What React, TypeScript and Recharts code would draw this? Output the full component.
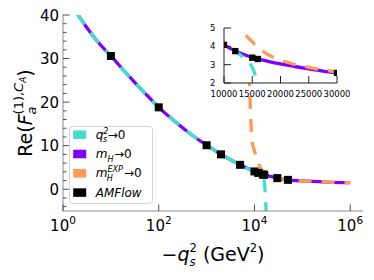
import React from 'react';
import {
  ComposedChart,
  Line,
  Scatter,
  XAxis,
  YAxis,
  ZAxis,
  CartesianGrid,
  Legend
} from 'recharts';

// values (x = -q_s^2 in GeV^2)
const mHx = [2, 3, 5, 10, 20, 50, 100, 200, 500, 1000, 2000, 5000, 10000, 12000, 14000, 16000, 18000, 20000, 22500, 25000, 27500, 30000, 50000, 100000, 300000, 1000000];
const mHy = [40.3, 37.4, 34.2, 30.6, 26.9, 22.2, 18.8, 15.9, 12.4, 10.1, 8.0, 5.6, 4.08, 3.75, 3.5, 3.32, 3.17, 3.04, 2.9, 2.77, 2.65, 2.55, 2.15, 1.9, 1.65, 1.5];

const qsX = [2, 3, 5, 10, 20, 50, 100, 200, 500, 1000, 2000, 5000, 10000, 12000, 13000, 14000, 14500, 15000, 15500, 16000, 16500, 17000, 17500];
const qsY = [40.3, 37.4, 34.2, 30.6, 26.9, 22.2, 18.8, 15.9, 12.4, 10.1, 8.0, 5.6, 4.08, 3.72, 3.5, 3.25, 3.1, 2.85, 2.45, 1.7, 0.3, -2.0, -5.5];

const expX = [7600, 8000, 8300, 8700, 9500, 10000, 11000, 12000, 13250, 15000, 17500, 20000, 25000, 30000, 50000, 100000, 300000, 1000000];
const expY = [32, 22, 17, 12.5, 9.6, 8.8, 7.3, 6.1, 4.95, 4.25, 3.6, 3.25, 2.85, 2.6, 2.15, 1.9, 1.65, 1.5];

const amfX = [10, 100, 1000, 2000, 5000, 10000, 12000, 15000, 16000, 30000, 50000];
const amfY = [30.6, 18.8, 10.1, 8.0, 5.6, 4.08, 3.74, 3.38, 3.31, 2.55, 2.15];

const xTicks = [1, 100, 10000, 1000000];
const yTicks = [-4, -2, 0, 2, 4, 6, 8, 10, 12, 14, 16, 18, 20, 22, 24, 26, 28, 30, 32, 34, 36, 38, 40];
const insetXTicks = [10000, 15000, 20000, 25000, 30000];
const insetYTicks = [2, 3, 4, 5];

const legendItems = [
  { color: '#40e0d0', base: 'q', sub: 's', sup: '2', tail: '→0' },
  { color: '#7f00ff', base: 'm', sub: 'H', sup: '', tail: '→0' },
  { color: '#ff9955', base: 'm', sub: 'H', sup: 'EXP', tail: '→0' },
  { color: '#000000', base: 'AMFlow', sub: '', sup: '', tail: '' }
];

const zip = (xs: number[], ys: number[]) => xs.map((x, i) => ({ x, y: ys[i] }));
const mHData = zip(mHx, mHy);
const qsData = zip(qsX, qsY);
const expData = zip(expX, expY);
const amfData = zip(amfX, amfY);

const FONT = '"DejaVu Sans", sans-serif';
const SPINE = '#8c8c8c';
const TICK = '#4d4d4d';
const TM = 4;

const LeftTick = (p: any) => {
  const v = p.payload.value;
  const major = v % 10 === 0;
  const ax = p.x + TM;
  return (
    <g>
      <line x1={ax} x2={ax + (major ? 6.5 : 3.5)} y1={p.y} y2={p.y} stroke={TICK} />
      {major && (
        <text x={p.x} y={p.y + 5.5} textAnchor="end" fontSize={15} fontFamily={FONT} fill="#000">{v}</text>
      )}
    </g>
  );
};

const RightTick = (p: any) => {
  const major = p.payload.value % 10 === 0;
  const ax = p.x - TM;
  return <line x1={ax} x2={ax - (major ? 6.5 : 3.5)} y1={p.y} y2={p.y} stroke={TICK} />;
};

const BottomTick = (p: any) => {
  const exp = Math.round(Math.log10(p.payload.value));
  const ay = p.y - TM;
  return (
    <g>
      <line x1={p.x} x2={p.x} y1={ay} y2={ay - 6.5} stroke={TICK} />
      <text x={p.x} y={ay + 20} textAnchor="middle" fontSize={15} fontFamily={FONT} fill="#000">
        10<tspan fontSize={10.5} dy={-7}>{exp}</tspan>
      </text>
    </g>
  );
};

const TopTick = (p: any) => {
  const ay = p.y + TM;
  return <line x1={p.x} x2={p.x} y1={ay} y2={ay + 6.5} stroke={TICK} />;
};

const XLabel = (p: any) => {
  const vb = p.viewBox;
  const cx = vb.x + vb.width / 2;
  const by = vb.y + 50;
  return (
    <text x={cx} y={by} textAnchor="middle" fontSize={19} fontFamily={FONT} fill="#000">
      −<tspan fontStyle="italic">q</tspan>
      <tspan fontSize={11.5} dy={-9}>2</tspan>
      <tspan fontStyle="italic" fontSize={11.5} dx={-7.3} dy={14}>s</tspan>
      <tspan dx={1.3} dy={-5}> (GeV</tspan>
      <tspan fontSize={11.5} dy={-9}>2</tspan>
      <tspan dy={9}>)</tspan>
    </text>
  );
};

const YLabel = (p: any) => {
  const vb = p.viewBox;
  const cx = vb.x + 32;
  const cy = vb.y + vb.height / 2;
  return (
    <text x={cx} y={cy} transform={`rotate(-90 ${cx} ${cy})`} textAnchor="middle" fontSize={19} fontFamily={FONT} fill="#000">
      Re(<tspan fontStyle="italic">F</tspan>
      <tspan fontStyle="italic" fontSize={13} dy={4}>a</tspan>
      <tspan fontSize={13} dx={-8} dy={-13}>(1),</tspan>
      <tspan fontStyle="italic" fontSize={13}>C</tspan>
      <tspan fontStyle="italic" fontSize={9} dy={3}>A</tspan>
      <tspan dy={6}>)</tspan>
    </text>
  );
};

const InsetLeftTick = (p: any) => {
  const ax = p.x + TM;
  return (
    <g>
      <line x1={ax} x2={ax + 7} y1={p.y} y2={p.y} stroke="#222" />
      <text x={p.x - 4.5} y={p.y + 3} textAnchor="end" fontSize={8.5} fontFamily={FONT} fill="#000">{p.payload.value}</text>
    </g>
  );
};

const InsetBottomTick = (p: any) => {
  const ay = p.y - TM;
  return (
    <g>
      <line x1={p.x} x2={p.x} y1={ay} y2={ay - 7} stroke="#222" />
      <text x={p.x} y={ay + 13.5} textAnchor="middle" fontSize={8.5} fontFamily={FONT} fill="#000">{p.payload.value}</text>
    </g>
  );
};

// rough advance widths of the small script glyphs (8px italic)
const scriptWidth = (s: string) => s.length * 5.3;

const LegendLabel = ({ it, x, y }: { it: typeof legendItems[number]; x: number; y: number }) => {
  const supW = scriptWidth(it.sup);
  const subW = scriptWidth(it.sub);
  return (
    <text x={x} y={y} fontSize={12} fontFamily={FONT} fill="#000">
      <tspan fontStyle="italic">{it.base}</tspan>
      {it.sup && <tspan fontSize={8} fontStyle="italic" dy={-5}>{it.sup}</tspan>}
      {it.sub && (
        <tspan fontSize={8} fontStyle="italic" dx={it.sup ? -supW : 0} dy={it.sup ? 8.5 : 3.5}>{it.sub}</tspan>
      )}
      {it.tail && (
        <tspan dx={Math.max(supW - subW, 0) + 0.5} dy={it.sub ? -3.5 : 0}>{it.tail}</tspan>
      )}
    </text>
  );
};

const renderLegend = () => (
  <svg width={84} height={78} style={{ display: 'block' }}>
    <rect x={0.5} y={0.5} width={83} height={77} rx={3} fill="#fff" fillOpacity={0.85} stroke="#d6d6d6" />
    {legendItems.map((it, i) => {
      const cy = 8.7 + i * 19.3;
      return (
        <g key={it.base + it.sup}>
          <rect x={4.2} y={cy - 4.25} width={13} height={8.5} fill={it.color} />
          <LegendLabel it={it} x={26.7} y={cy + 4} />
        </g>
      );
    })}
  </svg>
);

const App: React.FC = () => {
  return (
    <div style={{ position: 'absolute', left: 0, top: 0, width: 374, height: 280, background: '#fff', fontFamily: FONT }}>
      <ComposedChart width={374} height={280} margin={{ top: 15, right: 11, bottom: 0, left: 0 }}>
        <XAxis
          xAxisId="b"
          type="number"
          dataKey="x"
          scale="log"
          domain={[1, 1850000]}
          allowDataOverflow
          ticks={xTicks}
          interval={0}
          height={69}
          tickSize={0}
          tickMargin={TM}
          tickLine={false}
          axisLine={{ stroke: SPINE }}
          tick={(p: any) => <BottomTick {...p} />}
          label={(p: any) => <XLabel {...p} />}
        />
        <XAxis
          xAxisId="t"
          orientation="top"
          type="number"
          scale="log"
          domain={[1, 1850000]}
          allowDataOverflow
          ticks={xTicks}
          interval={0}
          height={0}
          tickSize={0}
          tickMargin={TM}
          tickLine={false}
          axisLine={{ stroke: SPINE }}
          tick={(p: any) => <TopTick {...p} />}
        />
        <YAxis
          yAxisId="l"
          type="number"
          dataKey="y"
          domain={[-5, 40]}
          allowDataOverflow
          ticks={yTicks}
          interval={0}
          width={63}
          tickSize={0}
          tickMargin={TM}
          tickLine={false}
          axisLine={{ stroke: SPINE }}
          tick={(p: any) => <LeftTick {...p} />}
          label={(p: any) => <YLabel {...p} />}
        />
        <YAxis
          yAxisId="r"
          orientation="right"
          type="number"
          domain={[-5, 40]}
          allowDataOverflow
          ticks={yTicks}
          interval={0}
          width={0}
          tickSize={0}
          tickMargin={TM}
          tickLine={false}
          axisLine={{ stroke: SPINE }}
          tick={(p: any) => <RightTick {...p} />}
        />
        <Line xAxisId="b" yAxisId="l" data={mHData} dataKey="y" type="monotone" stroke="#7f00ff" strokeWidth={3.3} dot={false} isAnimationActive={false} />
        <Line xAxisId="b" yAxisId="l" data={qsData} dataKey="y" type="monotone" stroke="#40e0d0" strokeWidth={3.3} strokeDasharray="13 10" dot={false} isAnimationActive={false} />
        <Line xAxisId="b" yAxisId="l" data={expData} dataKey="y" type="monotone" stroke="#ff9955" strokeWidth={3.3} strokeDasharray="13 10" dot={false} isAnimationActive={false} />
        <Scatter xAxisId="b" yAxisId="l" data={amfData} dataKey="y" shape="square" fill="#000" isAnimationActive={false} />
        <Legend
          content={renderLegend}
          layout="vertical"
          align="center"
          verticalAlign="middle"
          wrapperStyle={{ left: 69, top: 126, width: 84 }}
        />
      </ComposedChart>

      <div style={{ position: 'absolute', left: 200, top: 20 }}>
        <ComposedChart width={150} height={80} margin={{ top: 8, right: 13, bottom: 0, left: 0 }}>
          <CartesianGrid horizontal={false} vertical={false} fill="#fff" stroke="none" />
          <XAxis
            type="number"
            dataKey="x"
            domain={[10000, 30000]}
            allowDataOverflow
            ticks={insetXTicks}
            interval={0}
            height={17}
            tickSize={0}
            tickMargin={TM}
            tickLine={false}
            axisLine={{ stroke: '#222' }}
            tick={(p: any) => <InsetBottomTick {...p} />}
          />
          <XAxis xAxisId="t" orientation="top" type="number" domain={[10000, 30000]} height={0} tick={false} tickLine={false} axisLine={{ stroke: '#222' }} />
          <YAxis
            type="number"
            dataKey="y"
            domain={[2, 5]}
            allowDataOverflow
            ticks={insetYTicks}
            interval={0}
            width={24}
            tickSize={0}
            tickMargin={TM}
            tickLine={false}
            axisLine={{ stroke: '#222' }}
            tick={(p: any) => <InsetLeftTick {...p} />}
          />
          <YAxis yAxisId="r" orientation="right" type="number" domain={[2, 5]} width={0} tick={false} tickLine={false} axisLine={{ stroke: '#222' }} />
          <ZAxis range={[40, 40]} />
          <Line data={mHData} dataKey="y" type="monotone" stroke="#7f00ff" strokeWidth={3.3} dot={false} isAnimationActive={false} />
          <Line data={qsData} dataKey="y" type="monotone" stroke="#40e0d0" strokeWidth={3.3} strokeDasharray="13 10" dot={false} isAnimationActive={false} />
          <Line data={expData} dataKey="y" type="monotone" stroke="#ff9955" strokeWidth={3.3} strokeDasharray="13 10" dot={false} isAnimationActive={false} />
          <Scatter data={amfData} dataKey="y" shape="square" fill="#000" isAnimationActive={false} />
        </ComposedChart>
      </div>
    </div>
  );
};

export default App;
